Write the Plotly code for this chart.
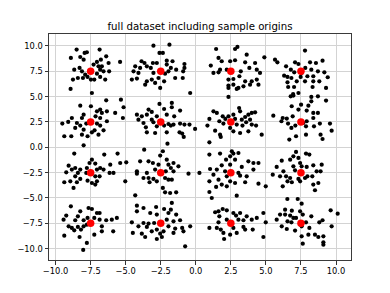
import plotly.graph_objects as go

# sample origins (cluster centres)
origin_x = [-7.5, -2.5, 2.5, 7.5, -7.5, -2.5, 2.5, 7.5, -7.5, -2.5, 2.5, 7.5, -7.5, -2.5, 2.5, 7.5]
origin_y = [7.5, 7.5, 7.5, 7.5, 2.5, 2.5, 2.5, 2.5, -2.5, -2.5, -2.5, -2.5, -7.5, -7.5, -7.5, -7.5]

# row 1 (y around 7.5)
row1 = [
    (-8.50, 9.64), (-7.93, 9.31), (-7.77, 9.38), (-6.86, 9.64), (-8.91, 8.82), (-8.24, 8.91), (-8.0, 8.65),
    (-6.39, 8.98), (-5.40, 8.42), (-7.05, 8.42), (-6.77, 8.65), (-6.22, 8.32), (-7.29, 8.16), (-6.94, 7.99),
    (-6.70, 7.99), (-8.67, 7.66), (-8.29, 7.83), (-8.12, 7.50), (-6.82, 7.66), (-6.58, 7.50), (-6.18, 7.50),
    (-7.89, 7.17), (-7.05, 7.27), (-8.41, 6.84), (-8.05, 6.84), (-7.72, 6.94), (-6.82, 6.94), (-8.76, 6.68),
    (-7.48, 6.68), (-7.24, 6.68), (-6.46, 6.68), (-8.93, 5.76), (-7.41, 5.36),
    (-3.02, 10.03), (-1.88, 10.13), (-2.59, 9.31), (-2.35, 9.31), (-2.07, 8.55), (-1.66, 8.49), (-0.81, 8.22),
    (-3.87, 8.49), (-3.66, 8.32), (-3.06, 8.32), (-2.78, 8.32), (-4.32, 7.99), (-3.97, 7.83), (-3.49, 7.99),
    (-3.21, 7.83), (-2.07, 8.16), (-1.78, 7.83), (-1.40, 7.66), (-0.81, 7.83), (-4.44, 7.50), (-4.09, 7.34),
    (-3.02, 7.34), (-2.19, 7.27), (-1.95, 7.50), (-0.90, 7.50), (-4.56, 6.68), (-4.20, 6.78), (-3.49, 6.51),
    (-3.14, 6.68), (-2.66, 6.84), (-2.26, 6.51), (-1.47, 6.84), (-0.93, 6.84), (-2.54, 5.86), (-0.40, 5.36),
    (-3.61, 6.18), (-2.90, 6.35),
    (1.45, 9.70), (2.80, 9.70), (2.97, 9.90), (3.63, 9.14), (4.89, 8.88), (1.62, 8.82), (1.85, 8.49),
    (2.45, 8.49), (2.80, 8.59), (3.52, 8.39), (4.23, 8.32), (1.07, 8.06), (1.73, 7.66), (2.21, 7.66),
    (3.21, 7.50), (3.82, 7.83), (4.35, 7.66), (1.26, 7.34), (1.62, 7.40), (3.11, 7.01), (4.58, 7.34),
    (2.33, 6.68), (2.68, 6.74), (3.52, 6.51), (3.99, 6.51), (4.35, 6.68), (2.33, 6.09), (2.68, 6.18),
    (3.04, 5.86), (3.40, 6.02), (3.87, 6.18), (2.33, 5.86), (4.47, 6.18), (2.33, 4.97), (2.92, 5.76),
    (7.79, 9.54), (5.65, 8.65), (5.82, 8.39), (6.44, 7.99), (7.08, 8.39), (7.32, 8.22), (8.15, 8.39),
    (8.57, 8.32), (9.04, 8.55), (6.78, 7.66), (7.02, 7.40), (7.81, 7.83), (8.24, 7.66), (8.71, 7.50),
    (9.17, 7.40), (6.30, 7.07), (6.82, 6.84), (7.48, 6.94), (7.96, 7.01), (8.38, 7.01), (9.41, 6.91),
    (6.54, 6.41), (7.20, 6.51), (7.79, 6.51), (8.38, 6.51), (8.81, 6.51), (6.59, 5.95), (7.01, 5.95),
    (8.33, 5.95), (9.29, 5.86), (6.94, 5.26), (7.32, 5.36), (6.54, 6.94), (7.55, 7.34),
]
# row 2 (y around 2.5)
row2 = [
    (-8.24, 4.11), (-7.48, 4.05), (-6.39, 4.64), (-5.34, 4.70), (-5.15, 3.95), (-6.82, 3.72), (-7.05, 3.55),
    (-6.70, 3.39), (-6.34, 3.55), (-5.75, 3.39), (-5.20, 2.89), (-8.0, 3.22), (-8.12, 2.89), (-8.84, 2.89),
    (-7.15, 3.06), (-6.82, 2.89), (-6.34, 2.57), (-9.52, 2.34), (-9.10, 2.50), (-8.48, 2.40), (-8.24, 2.14),
    (-7.81, 2.34), (-7.05, 2.34), (-6.82, 2.14), (-8.60, 1.91), (-8.0, 1.74), (-7.22, 1.68), (-6.58, 1.68),
    (-9.38, 1.09), (-8.88, 1.09), (-8.12, 1.25), (-7.72, 1.09), (-6.94, 1.25), (-7.41, 1.48), (-8.0, 0.20),
    (-2.59, 4.28), (-1.71, 4.38), (-1.71, 3.95), (-3.37, 3.72), (-3.14, 3.49), (-2.26, 3.78), (-1.12, 3.62),
    (-4.20, 3.22), (-3.85, 3.06), (-3.49, 3.22), (-2.78, 3.06), (-2.07, 3.22), (-1.54, 3.06), (-4.09, 2.73),
    (-3.14, 2.73), (-3.02, 2.47), (-3.73, 2.40), (-1.95, 2.30), (-1.59, 2.24), (-1.12, 2.34), (-0.45, 2.24),
    (-3.56, 1.97), (-2.78, 2.07), (-2.26, 2.14), (-1.78, 2.14), (-0.81, 2.24), (-0.05, 1.81), (-3.49, 1.48),
    (-2.90, 1.41), (-1.16, 1.48), (-0.97, 1.35), (-0.86, 1.02), (-2.07, 1.48),
    (3.09, 3.88), (3.16, 3.55), (1.26, 3.55), (1.50, 3.39), (1.92, 3.06), (3.75, 3.22), (3.99, 3.39),
    (4.23, 3.45), (3.52, 2.99), (3.28, 2.73), (0.97, 2.80), (2.33, 3.06), (2.68, 3.22), (3.59, 2.47),
    (3.87, 2.73), (1.68, 2.57), (1.97, 2.34), (2.92, 2.24), (3.33, 2.14), (0.83, 2.14), (2.45, 1.91),
    (3.99, 2.24), (4.30, 2.14), (1.38, 1.64), (1.73, 1.25), (1.78, 1.02), (2.68, 1.58), (3.16, 1.41),
    (3.75, 1.58), (4.70, 1.25), (0.97, 0.49), (2.11, 2.80), (2.80, 2.80),
    (6.77, 5.03), (6.96, 5.10), (8.24, 4.97), (8.71, 5.03), (9.29, 4.61), (8.24, 4.54), (7.51, 4.21),
    (8.03, 4.11), (6.84, 4.05), (5.53, 3.12), (6.20, 2.89), (6.49, 2.83), (6.91, 3.06), (7.32, 3.72),
    (7.91, 3.62), (8.38, 3.39), (8.71, 3.39), (6.11, 2.57), (6.58, 2.34), (7.10, 2.14), (7.67, 2.40),
    (7.91, 2.57), (8.38, 2.89), (8.85, 2.34), (9.57, 2.34), (6.82, 1.91), (7.86, 2.07), (8.43, 2.07),
    (9.69, 1.64), (7.15, 1.09), (7.86, 1.25), (6.67, 0.76), (8.90, 1.25), (9.04, 0.82),
]
# row 3 (y around -2.5)
row3 = [
    (-8.67, -0.62), (-7.41, -1.22), (-6.53, -0.72), (-5.58, -0.62), (-4.96, -1.48), (-7.58, -1.55),
    (-7.17, -1.61), (-6.82, -2.04), (-6.10, -1.71), (-5.39, -1.55), (-9.07, -1.81), (-8.60, -2.04),
    (-8.84, -2.20), (-8.24, -2.20), (-7.77, -2.04), (-7.05, -2.20), (-6.58, -2.20), (-9.24, -2.47),
    (-8.41, -2.53), (-7.81, -2.53), (-6.15, -2.53), (-5.87, -2.53), (-8.60, -2.86), (-7.17, -2.86),
    (-6.86, -2.86), (-8.95, -3.36), (-8.48, -3.45), (-7.72, -3.29), (-7.41, -3.52), (-7.05, -3.36),
    (-5.03, -3.36), (-9.38, -3.45), (-8.72, -4.01), (-7.17, -3.68), (-8.24, -3.12),
    (-3.68, -0.23), (-2.02, 0.36), (-2.35, -0.39), (-2.54, -0.82), (-3.97, -1.38), (-3.37, -1.38),
    (-3.06, -1.55), (-2.07, -1.22), (-1.59, -1.55), (-1.24, -1.88), (-2.66, -1.71), (-1.95, -1.71),
    (-2.90, -2.20), (-1.78, -2.04), (-1.59, -2.37), (-4.20, -2.37), (-3.49, -2.53), (-2.14, -2.37),
    (-0.52, -2.60), (-4.20, -2.60), (-3.73, -3.03), (-3.37, -3.03), (-3.02, -3.12), (-2.78, -3.36),
    (-2.19, -3.03), (-1.95, -3.19), (-1.71, -3.19), (-3.30, -3.45), (-2.35, -4.01), (-2.19, -4.44),
    (-1.83, -4.51), (-1.40, -4.44), (-4.32, -4.74), (0.26, -2.53),
    (0.97, -0.72), (1.73, -0.62), (2.57, -0.39), (2.68, -0.62), (3.04, -0.56), (2.45, -0.89), (2.16, -1.22),
    (2.80, -1.22), (3.75, -1.38), (4.11, -1.55), (4.47, -1.55), (1.85, -1.78), (2.45, -1.71), (3.28, -1.94),
    (4.11, -2.20), (1.02, -2.14), (1.50, -2.20), (2.09, -2.37), (3.04, -2.53), (1.26, -2.70), (2.21, -2.86),
    (3.16, -2.80), (3.63, -2.86), (0.97, -3.36), (1.62, -3.19), (2.45, -3.36), (2.80, -3.52), (3.52, -3.45),
    (4.47, -3.59), (4.99, -3.85), (1.85, -3.68), (1.45, -3.91), (0.97, -4.41), (1.14, -5.0), (2.92, -4.77),
    (2.21, -3.85),
    (7.15, -0.46), (7.86, -0.62), (8.10, -0.72), (6.96, -0.89), (7.32, -1.05), (6.73, -1.22), (6.13, -1.32),
    (7.44, -1.55), (8.98, -1.71), (5.77, -1.94), (6.96, -1.88), (7.55, -1.88), (7.91, -1.94), (8.38, -1.78),
    (6.25, -2.37), (7.08, -2.27), (8.62, -2.37), (8.90, -2.37), (5.49, -2.70), (6.01, -2.86), (6.44, -2.86),
    (6.73, -3.03), (7.32, -3.12), (7.96, -2.86), (8.31, -2.86), (6.85, -3.45), (7.44, -3.36), (7.79, -3.03),
    (8.74, -3.52), (6.20, -3.85), (8.38, -3.68), (8.50, -4.24), (6.54, -3.36),
]
# row 4 (y around -7.5)
row4 = [
    (-7.65, -5.99), (-7.41, -6.09), (-8.91, -5.82), (-8.24, -6.32), (-7.05, -6.48), (-6.86, -6.48),
    (-9.24, -6.74), (-8.41, -6.81), (-7.72, -6.97), (-7.24, -6.97), (-6.39, -7.20), (-5.99, -7.14),
    (-5.63, -6.97), (-9.43, -7.14), (-8.60, -7.20), (-8.0, -7.20), (-6.86, -7.14), (-9.07, -7.80),
    (-8.84, -7.96), (-8.41, -7.86), (-8.0, -7.80), (-7.77, -7.63), (-6.70, -7.80), (-5.89, -8.29),
    (-6.70, -8.29), (-7.24, -8.62), (-8.29, -8.85), (-9.38, -8.72), (-7.77, -9.44), (-8.03, -10.13),
    (-8.67, -8.19), (-8.19, -8.12),
    (-1.71, -5.49), (-4.20, -5.76), (-4.20, -6.32), (-3.73, -5.99), (-2.83, -5.89), (-2.26, -6.09),
    (-1.78, -6.15), (-3.25, -6.48), (-2.78, -6.64), (-1.95, -6.48), (-1.40, -6.64), (-4.56, -7.40),
    (-3.73, -7.47), (-3.37, -7.53), (-2.97, -7.47), (-2.07, -7.14), (-1.59, -7.30), (-1.12, -7.20),
    (-4.09, -7.80), (-3.49, -7.86), (-2.78, -8.12), (-1.95, -7.80), (-0.97, -7.96), (-0.40, -7.80),
    (-4.49, -8.45), (-3.85, -8.52), (-3.14, -8.29), (-2.54, -8.52), (-2.30, -8.29), (-1.59, -8.45),
    (-0.88, -8.29), (-3.61, -8.85), (-2.78, -9.05), (-2.42, -8.85), (-0.76, -9.77), (-1.47, -8.02),
    (1.92, -6.09), (2.21, -6.22), (1.38, -6.41), (1.62, -6.32), (2.68, -6.48), (3.16, -6.48), (2.87, -6.74),
    (3.63, -6.81), (4.82, -6.48), (4.35, -6.97), (1.68, -6.81), (2.21, -7.14), (3.04, -7.14), (3.99, -7.14),
    (0.97, -7.96), (1.50, -7.96), (1.78, -8.12), (2.68, -7.96), (3.40, -7.86), (3.52, -8.12), (4.06, -8.12),
    (1.97, -8.45), (2.45, -8.62), (2.92, -8.45), (2.02, -9.05), (4.99, -7.40), (4.82, -8.85), (3.40, -7.20),
    (1.62, -7.40),
    (6.53, -5.10), (7.27, -5.10), (7.55, -5.56), (6.37, -6.15), (6.85, -6.25), (7.44, -6.32), (6.01, -6.64),
    (6.37, -6.64), (6.73, -6.74), (6.96, -6.97), (7.15, -6.97), (7.63, -6.64), (8.24, -6.81), (9.62, -6.22),
    (10.12, -6.55), (5.77, -7.14), (6.54, -7.30), (6.82, -7.40), (7.86, -7.40), (8.81, -7.40), (9.04, -7.20),
    (6.13, -7.80), (6.49, -8.06), (7.55, -7.80), (8.10, -7.96), (9.69, -7.80), (7.55, -8.78), (8.03, -8.62),
    (8.50, -8.62), (8.74, -8.85), (9.10, -8.78), (9.10, -9.61), (9.10, -9.38), (7.63, -9.51), (7.08, -8.22),
]

tick_vals = [-10, -7.5, -5, -2.5, 0, 2.5, 5, 7.5, 10]
tick_text = ["\u221210.0", "\u22127.5", "\u22125.0", "\u22122.5", "0.0", "2.5", "5.0", "7.5", "10.0"]

pts = row1 + row2 + row3 + row4
data_x = [p[0] for p in pts]
data_y = [p[1] for p in pts]

fig = go.Figure()
fig.add_trace(go.Scatter(x=data_x, y=data_y, mode="markers",
                         marker=dict(color="black", size=4.2, line=dict(width=0)),
                         showlegend=False, hoverinfo="skip"))
fig.add_trace(go.Scatter(x=origin_x, y=origin_y, mode="markers",
                         marker=dict(color="red", size=7.5, line=dict(width=0)),
                         showlegend=False, hoverinfo="skip"))

axis_common = dict(
    tickvals=tick_vals, ticktext=tick_text, showgrid=True, gridcolor="#d3d3d3", gridwidth=1,
    zeroline=False, showline=True, linecolor="#3a3a3a", linewidth=1, mirror=True,
    ticks="outside", ticklen=3.5, tickwidth=0.8, tickcolor="#333333", automargin=False,
    tickfont=dict(family="DejaVu Sans", size=8.3, color="#000000"),
)
fig.update_xaxes(range=[-10.47, 11.07], **axis_common)
fig.update_yaxes(range=[-11.12, 11.18], **axis_common)

# page body has an 8px default margin, so the figure is sized/offset to compensate
fig.update_layout(
    width=382, height=285,
    margin=dict(l=41, r=39, t=26, b=33, autoexpand=False),
    paper_bgcolor="white", plot_bgcolor="white",
    title=dict(text="full dataset including sample origins", x=0.5, xref="paper",
               y=1 - 18.7 / 285, yanchor="middle",
               font=dict(family="DejaVu Sans", size=10.2, color="#000000")),
)
fig.write_html("out.html")
